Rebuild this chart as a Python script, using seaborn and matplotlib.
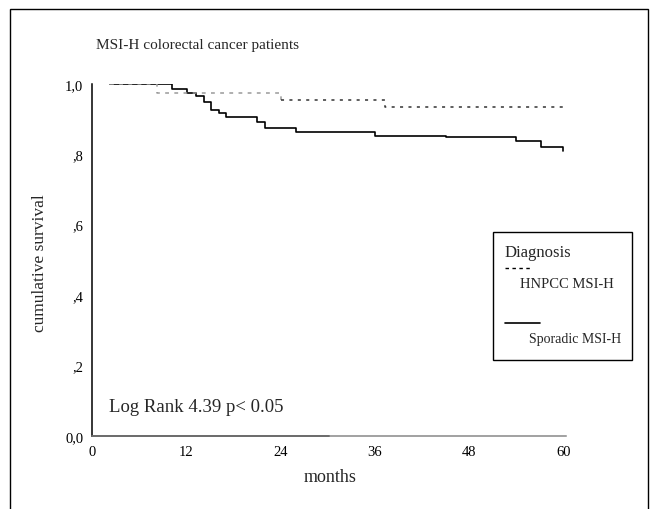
import matplotlib
matplotlib.use("Agg")
import matplotlib.pyplot as plt
import seaborn as sns
import pandas as pd
from matplotlib.lines import Line2D
from matplotlib.patches import Rectangle

# ---- data ----
sporadic_months = [2.2, 10.2, 12.0, 13.2, 14.2, 15.1, 16.2, 17.0, 21.0, 22.0,
                   26.0, 36.0, 45.0, 54.0, 57.1, 60.0]
sporadic_surv = [1.000, 0.987, 0.975, 0.965, 0.950, 0.927, 0.918, 0.905, 0.893, 0.874,
                 0.863, 0.851, 0.849, 0.839, 0.822, 0.810]
hnpcc_months = [2.2, 8.2, 24.0, 37.3, 60.0]
hnpcc_surv = [1.000, 0.975, 0.955, 0.935, 0.935]

x_ticks = [0, 12, 24, 36, 48, 60]
y_ticks = [0.0, 0.2, 0.4, 0.6, 0.8, 1.0]
y_tick_labels = ["0,0", ",2", ",4", ",6", ",8", "1,0"]

title = "MSI-H colorectal cancer patients"
note = "Log Rank 4.39 p< 0.05"
legend_title = "Diagnosis"
group_labels = ["HNPCC MSI-H", "Sporadic MSI-H"]

sns.set_style("white")
plt.rcParams["font.family"] = ["Liberation Serif", "DejaVu Serif"]

W, H = 659, 510
fig = plt.figure(figsize=(W / 100, H / 100), dpi=100)

def fx(px):
    return px / W

def fy(py):
    return 1 - py / H

ax = fig.add_axes([fx(92.3), fy(436.7), 60.35 * 7.85 / W, (436.7 - 85) / H])

sns.lineplot(x=sporadic_months, y=sporadic_surv, drawstyle="steps-post",
             color="black", lw=1.2, ax=ax, estimator=None, sort=False)
sns.lineplot(x=hnpcc_months[:3], y=hnpcc_surv[:3], drawstyle="steps-post",
             color="#9a9a9a", lw=1.1, linestyle=(0, (2.5, 3.5)), ax=ax,
             estimator=None, sort=False)
sns.lineplot(x=hnpcc_months[2:], y=hnpcc_surv[2:], drawstyle="steps-post",
             color="#333333", lw=1.1, linestyle=(0, (2.0, 3.5)), ax=ax,
             estimator=None, sort=False)

ax.set_xlim(0, 60.35)
ax.set_ylim(0, 1.0)
ax.set_xticks(x_ticks)
ax.set_xticklabels([str(t) for t in x_ticks])
ax.set_yticks(y_ticks)
ax.set_yticklabels(y_tick_labels)
ax.tick_params(axis="both", direction="out", length=2.5, width=1,
               labelsize=10.5, colors="black", pad=4)
for side in ["top", "right"]:
    ax.spines[side].set_visible(False)
ax.spines["left"].set_color("black")
ax.spines["left"].set_linewidth(1.1)
ax.spines["bottom"].set_color("#888888")
ax.spines["bottom"].set_linewidth(1.1)
ax.axhline(0, xmin=0, xmax=30.2 / 60.35, color="black", lw=1.3, clip_on=False)
ax.set_xlabel("")
ax.set_ylabel("")
ax.patch.set_alpha(0)

fig.text(fx(330), fy(478), "months", ha="center", va="center", fontsize=13)
fig.text(fx(40), fy(263), "cumulative survival", ha="center", va="center",
         rotation=90, fontsize=12.5)
fig.text(fx(96), fy(46), title, ha="left", va="center", fontsize=11)
fig.text(fx(109), fy(407), note, ha="left", va="center", fontsize=13.5)

# legend box drawn manually to match the SPSS layout
fig.patches.append(Rectangle((fx(493), fy(361)), fx(632) - fx(493), fy(233) - fy(361),
                             transform=fig.transFigure, fill=False,
                             edgecolor="black", lw=1.0))
fig.text(fx(505), fy(253), legend_title, ha="left", va="center", fontsize=12)
fig.lines.append(Line2D([fx(505), fx(532)], [fy(269), fy(269)], transform=fig.transFigure,
                        color="black", lw=1.0, linestyle=(0, (2.5, 2.5))))
fig.text(fx(520), fy(284), group_labels[0], ha="left", va="center", fontsize=10.5)
fig.lines.append(Line2D([fx(505), fx(540)], [fy(324), fy(324)], transform=fig.transFigure,
                        color="black", lw=1.2))
fig.text(fx(529), fy(340), group_labels[1], ha="left", va="center", fontsize=10)

# outer frame
fig.patches.append(Rectangle((fx(10), fy(520)), fx(648) - fx(10), fy(10) - fy(520),
                             transform=fig.transFigure, fill=False,
                             edgecolor="black", lw=1.0, clip_on=False))

fig.savefig("out.png", dpi=100, facecolor="white")
